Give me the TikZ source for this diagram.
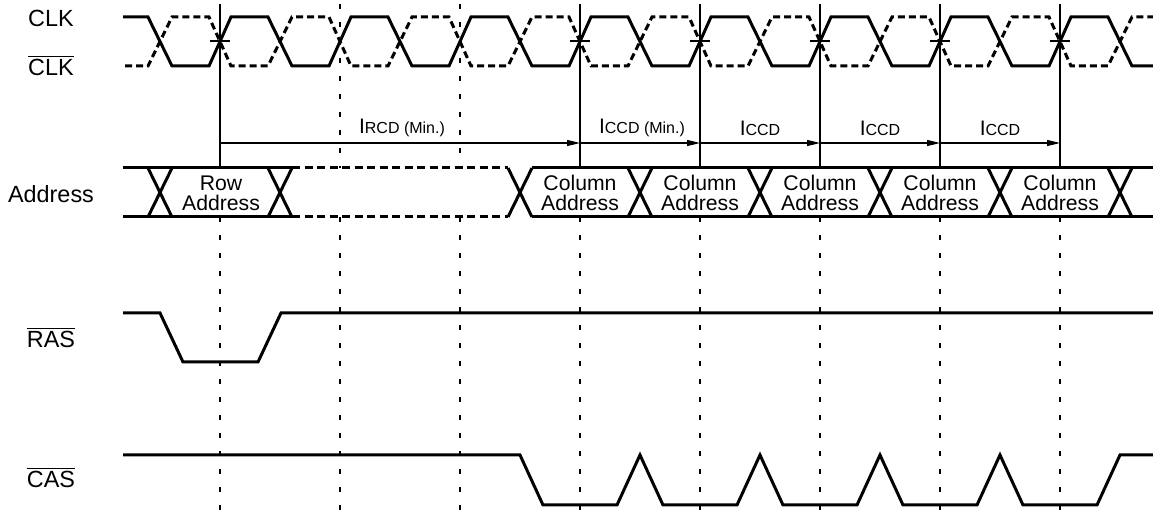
\documentclass[tikz,border=0pt]{standalone}
\usepackage{fontspec}
\setmainfont{Liberation Sans}
\usetikzlibrary{positioning, arrows.meta}

\newcommand{\barsig}[1]{$\overline{\mbox{#1}}$}
\newcommand{\tparam}[1]{I{\fontsize{8}{9}\selectfont #1}}

\begin{document}
\begin{tikzpicture}[x=0.5pt, y=-0.5pt, >={Triangle[length=6.5pt, width=3pt]},
    wave/.style = {line width=1.5pt},
    wavebar/.style = {wave, dash pattern=on 3.5pt off 2pt},
    busdash/.style = {wave, dash pattern=on 4pt off 2.25pt},
    guide/.style = {line width=0.55pt},
    guidedash/.style = {guide, dash pattern=on 2.5pt off 6.5pt},
    signame/.style = {font=\fontsize{11.7}{13}\selectfont, anchor=base},
    buslabel/.style = {font=\fontsize{10.6}{10}\selectfont, align=center, inner sep=0pt},
    timelabel/.style = {font=\fontsize{10.5}{12}\selectfont, inner sep=0pt},
    timing/.style = {line width=0.6pt, ->}]

    \useasboundingbox (0,0) rectangle (1153,518);

    % Signal names
    \node [signame] (clk) at (51,27) {CLK};
    \node [signame] (clkbar) at (51,76) {\barsig{CLK}};
    \node [signame] (addr) at (51,203) {Address};
    \node [signame] (ras) at (51,348) {\barsig{RAS}};
    \node [signame] (cas) at (51,488) {\barsig{CAS}};

    % Clock edges
    \foreach \k in {0,...,7} {
        \coordinate (top\k) at ({220+120*\k},4);
        \coordinate (arr\k) at ({220+120*\k},143);
        \coordinate (busT\k) at ({220+120*\k},168);
        \coordinate (busB\k) at ({220+120*\k},217);
        \coordinate (bot\k) at ({220+120*\k},518);
    }
    \foreach \k in {0,3,4,5,6,7} {
        \draw [guide] (top\k) -- (busT\k);
        \draw [guide] ({210+120*\k},41) -- ({230+120*\k},41);
    }
    \foreach \k in {1,2} \draw [guidedash] (top\k) -- (busT\k);
    \foreach \k in {0,...,7} \draw [guidedash] (busB\k) -- (bot\k);

    % CLK and CLK bar
    \draw [wave] (123,17) \foreach \k in {0,...,7} {
        -- ({148+120*\k},17) -- ({172+120*\k},66) -- ({209+120*\k},66) -- ({231+120*\k},17) }
        -- (1108,17) -- (1132,66) -- (1153,66);
    \draw [wavebar] (125,66) \foreach \k in {0,...,7} {
        -- ({148+120*\k},66) -- ({172+120*\k},17) -- ({209+120*\k},17) -- ({231+120*\k},66) }
        -- (1108,66) -- (1132,17) -- (1153,17);

    % Timing
    \draw [timing] (arr0) -- (arr3);
    \foreach \k/\n in {3/4, 4/5, 5/6, 6/7} \draw [timing] (arr\k) -- (arr\n);
    \node [timelabel] (trcd) at (402,128) {\tparam{RCD (Min.)}};
    \node [timelabel] (tccdmin) at (642,128) {\tparam{CCD (Min.)}};
    \node [timelabel] (tccda) at (760,128) {\tparam{CCD}};
    \node [timelabel] (tccdb) at (880,128) {\tparam{CCD}};
    \node [timelabel] (tccdc) at (1000,128) {\tparam{CCD}};

    % Address bus
    \draw [wave] (123,168) -- (292,168) (123,217) -- (292,217);
    \draw [busdash] (292,168) -- (508,168) (292,217) -- (508,217);
    \draw [wave] (532,168) -- (1153,168) (532,217) -- (1153,217);
    \foreach \c in {160,280,520,640,760,880,1000,1120}
        \draw [wave] ({\c-12},168) -- ({\c+12},217) ({\c-12},217) -- ({\c+12},168);
    \node [buslabel] (rowaddr) at (221,193) {Row\\Address};
    \foreach \k in {3,...,7}
        \node [buslabel] (coladdr\k) at ({220+120*\k},193) {Column\\Address};

    % RAS and CAS
    \draw [wave] (123,313) -- (160,313) -- (183,362) -- (258,362) -- (281,313) -- (1153,313);
    \draw [wave] (123,455) -- (520,455) -- (543,505) \foreach \p in {640,760,880,1000} {
        -- ({\p-23},505) -- (\p,455) -- ({\p+23},505) }
        -- (1097,505) -- (1120,455) -- (1153,455);
\end{tikzpicture}
\end{document}
